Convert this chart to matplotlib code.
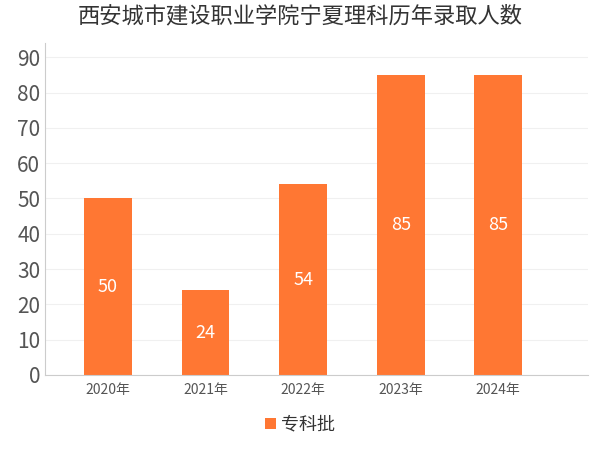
import matplotlib.pyplot as plt
from matplotlib import font_manager

# pick whatever CJK family is actually registered
cjk = [f.name for f in font_manager.fontManager.ttflist if 'CJK' in f.name]
if not cjk:
    for path in font_manager.findSystemFonts():
        if 'CJK' in path or 'cjk' in path.lower():
            font_manager.fontManager.addfont(path)
    cjk = [f.name for f in font_manager.fontManager.ttflist if 'CJK' in f.name]
pref = [n for n in cjk if 'SC' in n] or cjk
plt.rcParams['font.family'] = 'sans-serif'
plt.rcParams['font.sans-serif'] = pref[:1] + ['DejaVu Sans']

years = ['2020年', '2021年', '2022年', '2023年', '2024年']
counts = [50, 24, 54, 85, 85]
series_name = '专科批'
bar_color = '#FF7733'

fig = plt.figure(figsize=(6, 4.5), dpi=100)
ax = fig.add_axes([0.075, 0.167, 0.905, 0.737])

x = range(len(years))
ax.bar(x, counts, width=0.49, color=bar_color, label=series_name, zorder=2)
for xi, v in zip(x, counts):
    ax.text(xi, v / 2, str(v), ha='center', va='center', color='white', fontsize=13)

ax.set_xlim(-0.646, 4.92)
ax.set_ylim(0, 94)
ax.set_yticks(range(0, 91, 10))
ax.set_xticks(list(x))
ax.set_xticklabels(years, fontsize=10, color='#555555')
ax.tick_params(axis='y', labelsize=15, colors='#555555', length=0)
ax.tick_params(axis='x', length=0, pad=6)
ax.grid(axis='y', color='#f0f0f0', linewidth=0.8, zorder=0)
for s in ['top', 'right']:
    ax.spines[s].set_visible(False)
ax.spines['left'].set_color('#cccccc')
ax.spines['bottom'].set_color('#cccccc')

fig.suptitle('西安城市建设职业学院宁夏理科历年录取人数', x=0.5, y=0.99, fontsize=16, color='#333333')
fig.legend(loc='lower center', bbox_to_anchor=(0.5, 0.0), frameon=False, fontsize=13,
           handlelength=0.6, handleheight=0.6, handletextpad=0.3, labelcolor='#333333')

fig.savefig('out.png', dpi=100)
